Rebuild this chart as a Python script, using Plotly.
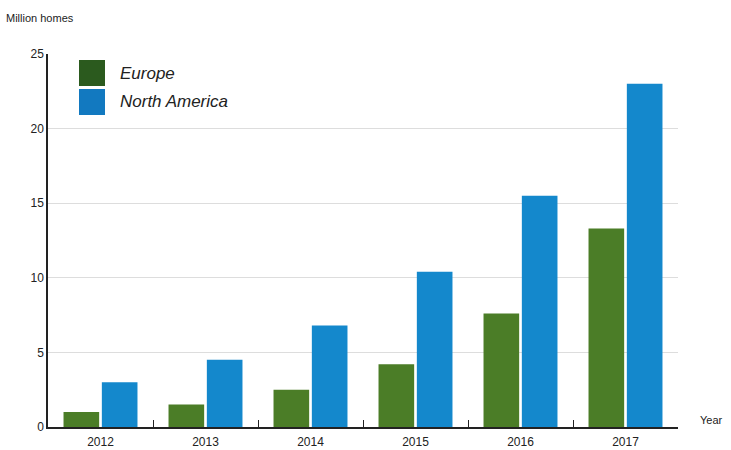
import plotly.graph_objects as go

years = ["2012", "2013", "2014", "2015", "2016", "2017"]
europe = [1.0, 1.5, 2.5, 4.2, 7.6, 13.3]
north_america = [3.0, 4.5, 6.8, 10.4, 15.5, 23.0]
y_ticks = [0, 5, 10, 15, 20, 25]

c_eu = "#4b7d27"
c_na = "#1488cc"

fig = go.Figure()
fig.add_trace(go.Bar(x=years, y=europe, name="Europe", marker=dict(color=c_eu, line=dict(width=0)), showlegend=False))
fig.add_trace(go.Bar(x=years, y=north_america, name="North America", marker=dict(color=c_na, line=dict(width=0)), showlegend=False))

font = "Liberation Sans, Arial, sans-serif"
fig.update_layout(
    width=731, height=450,
    margin=dict(l=48, r=53, t=54, b=23, autoexpand=False),
    paper_bgcolor="white", plot_bgcolor="white",
    barmode="group", bargap=0.27, bargroupgap=0.07,
    font=dict(family=font, size=12, color="#222"),
    xaxis=dict(type="category", showline=True, linecolor="#222", linewidth=1.5,
               ticks="inside", tickson="boundaries", ticklen=7, tickcolor="#222",
               tickfont=dict(size=12), showgrid=False, automargin=False,
               ticklabelstandoff=3),
    yaxis=dict(range=[0, 25], tickvals=y_ticks, showline=True, linecolor="#222", linewidth=1.5,
               showgrid=True, gridcolor="#dddddd", gridwidth=1, ticks="", zeroline=False,
               tickfont=dict(size=12), automargin=False),
    annotations=[
        dict(text="Million homes", xref="paper", yref="paper", x=-44/630, y=1 + 36/373,
             xanchor="left", yanchor="middle", showarrow=False, font=dict(size=11, color="#222")),
        dict(text="Year", xref="paper", yref="paper", x=1 + 20/630, y=0.02,
             xanchor="left", yanchor="middle", showarrow=False, font=dict(size=11, color="#222")),
        dict(text="<i>Europe</i>", xref="paper", yref="paper", x=70/630, y=1 - 19/373,
             xanchor="left", yanchor="middle", showarrow=False, font=dict(size=17, color="#222")),
        dict(text="<i>North America</i>", xref="paper", yref="paper", x=70/630, y=1 - 47/373,
             xanchor="left", yanchor="middle", showarrow=False, font=dict(size=17, color="#222")),
    ],
    shapes=[
        dict(type="rect", xref="paper", yref="paper", x0=31/630, x1=57/630,
             y0=1 - 32/373, y1=1 - 6/373, fillcolor="#2b5a1e", line=dict(width=0)),
        dict(type="rect", xref="paper", yref="paper", x0=31/630, x1=57/630,
             y0=1 - 61/373, y1=1 - 35/373, fillcolor="#1279c0", line=dict(width=0)),
    ],
)

fig.write_html("out.html", config={"displayModeBar": False},
               post_script="document.body.style.margin='0px';")
